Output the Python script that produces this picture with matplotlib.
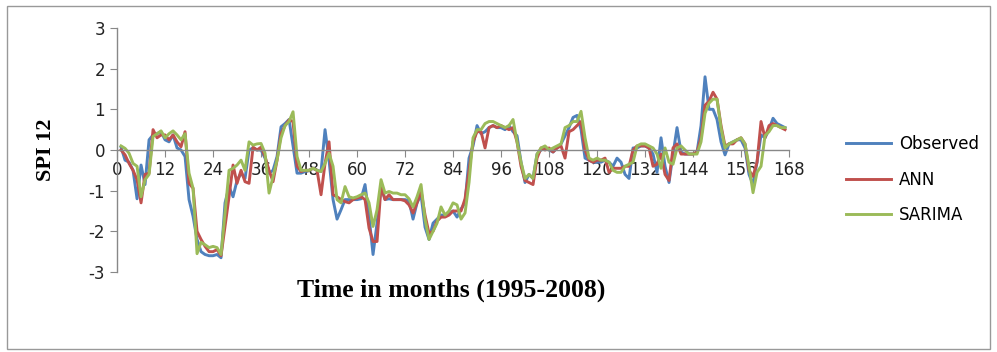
import matplotlib.pyplot as plt
from matplotlib.patches import Rectangle

plt.rcParams['axes.unicode_minus'] = False

# months 1..167
months = list(range(1, 168))

observed = [
    0.07, -0.25, -0.3, -0.5, -1.2, -0.37, -0.85, 0.25, 0.37, 0.4,
    0.45, 0.25, 0.2, 0.37, 0.05, 0.0, -0.16, -1.22, -1.63, -2.2,
    -2.5, -2.57, -2.6, -2.6, -2.57, -2.65, -1.3, -0.9, -1.15, -0.75,
    -0.57, -0.7, 0.0, 0.05, 0.0, 0.0, -0.2, -0.57, -0.5, -0.16,
    0.57, 0.65, 0.75, 0.1, -0.57, -0.57, -0.53, -0.5, -0.45, -0.5,
    -0.53, 0.5, -0.25, -1.22, -1.7, -1.47, -1.22, -1.22, -1.22, -1.22,
    -1.2, -0.85, -1.63, -2.57, -1.8, -0.9, -1.22, -1.2, -1.22, -1.22,
    -1.22, -1.22, -1.25, -1.7, -1.3, -1.1, -1.9, -2.2, -1.8, -1.7,
    -1.6, -1.6, -1.55, -1.5, -1.65, -1.45, -1.3, -0.2, 0.1, 0.6,
    0.4, 0.45, 0.55, 0.6, 0.55, 0.55, 0.5, 0.6, 0.45, 0.35,
    -0.3, -0.8, -0.6, -0.7, -0.1, 0.0, 0.05, 0.0, -0.05, 0.05,
    0.15, 0.35, 0.55, 0.8, 0.85, 0.5, -0.2, -0.25, -0.3, -0.3,
    -0.3, -0.25, -0.3, -0.4, -0.2, -0.3, -0.6, -0.7, 0.05, 0.05,
    0.1, 0.1, 0.05, -0.1, -0.55, 0.3, -0.4, -0.8, -0.1, 0.55,
    -0.05, -0.1, -0.1, -0.1, -0.05, 0.6, 1.8, 1.0, 1.0, 0.75,
    0.2, -0.12, 0.15, 0.2, 0.25, 0.25, 0.05, -0.6, -0.85, -0.3,
    0.37, 0.3, 0.5, 0.78, 0.65, 0.6, 0.55,
]

ann = [
    0.0, -0.12, -0.33, -0.5, -0.73, -1.3, -0.6, -0.57, 0.5, 0.3,
    0.37, 0.37, 0.25, 0.37, 0.2, 0.08, 0.45, -0.82, -0.94, -2.0,
    -2.2, -2.37, -2.5, -2.5, -2.45, -2.6, -1.88, -1.15, -0.37, -0.82,
    -0.5, -0.78, -0.82, 0.07, 0.0, 0.07, -0.16, -0.5, -0.78, -0.25,
    0.4, 0.6, 0.74, 0.7, -0.4, -0.53, -0.5, -0.5, -0.45, -0.5,
    -1.1, -0.33, 0.2, -1.1, -1.15, -1.22, -1.27, -1.3, -1.22, -1.18,
    -1.15, -1.22, -1.92, -2.25, -2.25, -0.9, -1.22, -1.1, -1.22, -1.22,
    -1.22, -1.25, -1.35, -1.55, -1.3, -1.0, -1.6, -2.05, -2.0, -1.75,
    -1.65, -1.65, -1.6, -1.5, -1.5, -1.5, -1.2, -0.5, 0.2, 0.45,
    0.45, 0.05, 0.55, 0.6, 0.55, 0.6, 0.55, 0.5, 0.55, 0.2,
    -0.4, -0.75, -0.8, -0.85, -0.2, 0.05, 0.0, 0.05, -0.05, 0.05,
    0.1, -0.2, 0.45, 0.5, 0.6, 0.7, 0.0, -0.25, -0.3, -0.25,
    -0.25, -0.2, -0.55, -0.45, -0.45, -0.45, -0.4, -0.4, 0.0, 0.1,
    0.1, 0.1, 0.05, -0.4, -0.35, -0.1, -0.6, -0.75, 0.05, 0.15,
    -0.1, -0.1, -0.1, -0.1, -0.05, 0.3, 1.1, 1.2, 1.42, 1.25,
    0.6, 0.1, 0.15, 0.15, 0.25, 0.3, 0.15, -0.5, -0.65, -0.3,
    0.7, 0.3, 0.6, 0.65, 0.6, 0.55, 0.5,
]

sarima = [
    0.1, 0.04, -0.08, -0.33, -0.4, -1.15, -0.73, -0.6, 0.33, 0.4,
    0.47, 0.3, 0.4, 0.47, 0.37, 0.25, 0.4, -0.57, -0.94, -2.55,
    -2.27, -2.33, -2.4, -2.37, -2.4, -2.57, -1.55, -0.5, -0.45, -0.37,
    -0.25, -0.5, 0.2, 0.12, 0.15, 0.16, -0.08, -1.06, -0.65, -0.25,
    0.3, 0.6, 0.7, 0.94, -0.16, -0.5, -0.5, -0.5, -0.45, -0.5,
    -0.53, -0.33, -0.08, -0.4, -1.22, -1.3, -0.9, -1.15, -1.18, -1.15,
    -1.1, -1.06, -1.3, -1.88, -1.47, -0.73, -1.06, -1.02, -1.06, -1.06,
    -1.1, -1.1, -1.2, -1.4, -1.15, -0.85, -1.7, -2.2, -2.0, -1.8,
    -1.4, -1.6, -1.5, -1.3, -1.35, -1.7, -1.55, -0.8, 0.3, 0.5,
    0.5, 0.65, 0.7, 0.7, 0.65, 0.6, 0.55, 0.6, 0.75, 0.2,
    -0.3, -0.7, -0.6, -0.7, -0.1, 0.05, 0.1, 0.0, 0.05, 0.1,
    0.15, 0.55, 0.6, 0.7, 0.7, 0.95, 0.3, -0.2, -0.25, -0.2,
    -0.25, -0.25, -0.3, -0.5, -0.55, -0.55, -0.4, -0.35, -0.3, 0.1,
    0.15, 0.15, 0.1, 0.05, -0.1, -0.45, 0.05, -0.3, -0.35, 0.05,
    0.1, 0.0, -0.1, -0.1, -0.1, 0.2, 0.9, 1.15, 1.25, 1.25,
    0.55, 0.05, 0.15, 0.2, 0.25, 0.3, 0.15, -0.4, -1.05, -0.55,
    -0.4, 0.35, 0.45, 0.6, 0.6, 0.55, 0.55,
]

x_ticks = list(range(0, 169, 12))
y_ticks = [-3, -2, -1, 0, 1, 2, 3]

fig = plt.figure(figsize=(9.97, 3.52), dpi=100)
ax = fig.add_axes([0.1174, 0.2273, 0.6740, 0.6932])

ax.plot(months, observed, color='#4F81BD', lw=2.1, label='Observed')
ax.plot(months, ann, color='#C0504D', lw=2.1, label='ANN')
ax.plot(months, sarima, color='#9BBB59', lw=2.1, label='SARIMA')

ax.set_xlim(0, 168)
ax.set_ylim(-3, 3)
ax.set_xticks(x_ticks)
ax.set_yticks(y_ticks)

for s in ['top', 'right']:
    ax.spines[s].set_visible(False)
ax.spines['bottom'].set_position(('data', 0))
ax.spines['left'].set_position(('data', 0))
for s in ['bottom', 'left']:
    ax.spines[s].set_color('#888888')
    ax.spines[s].set_linewidth(1)
ax.tick_params(axis='both', direction='out', length=5, color='#888888',
               labelsize=12, labelcolor='#222222')
ax.tick_params(axis='x', pad=3)
ax.set_facecolor('none')

fig.text(0.046, 0.575, 'SPI 12', rotation=90, ha='center', va='center',
         family='Liberation Serif', weight='bold', fontsize=16)
fig.text(0.453, 0.176, 'Time in months (1995-2008)', ha='center', va='center',
         family='Liberation Serif', weight='bold', fontsize=18.5)

fig.legend(loc='center left', bbox_to_anchor=(0.834, 0.49), frameon=False,
           fontsize=12, handlelength=2.7, handletextpad=0.45, labelspacing=1.05)

fig.patches.append(Rectangle((0.007, 0.008), 0.986, 0.975, transform=fig.transFigure,
                             fill=False, edgecolor='#999999', lw=1))

fig.savefig('out.png', dpi=100)
